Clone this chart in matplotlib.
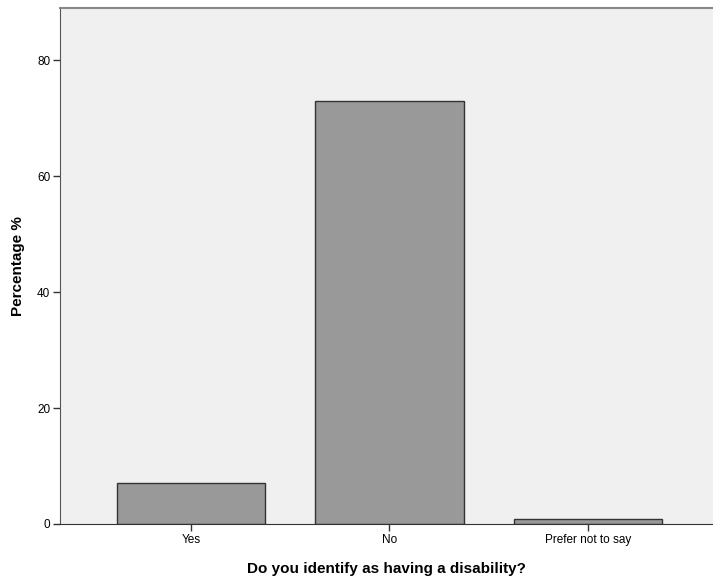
import matplotlib
matplotlib.use("Agg")
import matplotlib.pyplot as plt

# data
categories = ["Yes", "No", "Prefer not to say"]
percentages = [7.0, 73.0, 0.9]

plt.rcParams['font.family'] = ['Liberation Sans', 'DejaVu Sans']

fig = plt.figure(figsize=(7.13, 5.8), dpi=100)
ax = fig.add_axes([60 / 713, 56 / 580, 653 / 713, 516 / 580])
ax.set_facecolor('#f0f0f0')

x = range(len(categories))
ax.bar(x, percentages, width=0.75, color='#999999', edgecolor='#333333', linewidth=1.0)

ax.set_xlim(-0.66, 2.63)
ax.set_ylim(0, 89)
ax.set_xticks(list(x))
ax.set_xticklabels(categories)
ax.set_yticks([0, 20, 40, 60, 80])

ax.tick_params(axis='both', labelsize=8.5, length=5, width=1, color='#333333', pad=2)
ax.spines['right'].set_visible(False)
ax.spines['top'].set_color('#888888')
ax.spines['top'].set_linewidth(1.5)
ax.spines['left'].set_color('#555555')
ax.spines['bottom'].set_color('#333333')

ax.set_xlabel("Do you identify as having a disability?", fontsize=11, fontweight='bold', labelpad=12)
ax.set_ylabel("Percentage %", fontsize=11, fontweight='bold', labelpad=9)

plt.savefig("out.png", dpi=100)
